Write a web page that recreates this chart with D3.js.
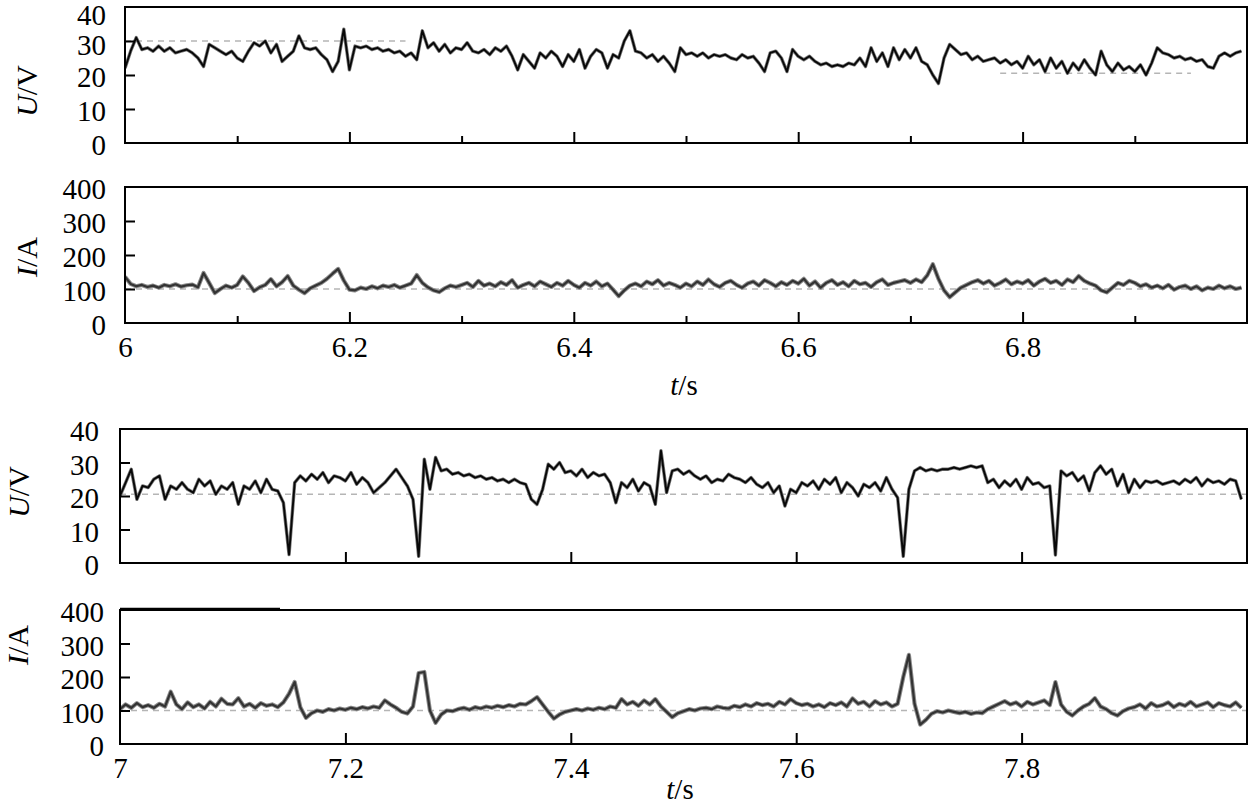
<!DOCTYPE html>
<html><head><meta charset="utf-8">
<script src="https://cdn.jsdelivr.net/npm/d3@7"></script>
<style>
html,body{margin:0;padding:0;background:#fff;}
svg{display:block;}
text{font-family:"Liberation Serif","Times New Roman",serif;fill:#000;}
</style></head>
<body>
<svg id="chart" width="1248" height="807"></svg>
<script>
// ---------- data (sampled every 0.005 s) ----------
const dt = 0.005;
const tStartTop = 6.0;
const tStartBot = 7.0;

// Voltage U (V), 6.000 s ... 6.995 s
const uTop = [
 22,27,31,27.5,28,27,28.5,27,28,26.5,27,27.5,26.5,25,22.5,29,28,27,26,27,
 25,24,27,29.5,28.5,30,26.5,29,24,25.5,27,31.5,28,27.5,28,26,24.5,21,24,33.5,
 21.5,28.5,28,28.5,27.5,28,27,27.5,26.5,27,25.5,26.5,24.5,33,28,29.5,27,29,26.5,28,
 27.5,29.5,27,26.5,27.5,26,28,27,28.5,25.5,21.5,26,24,22,26.5,25,27,25.5,22.5,26,
 24,27.5,22,25.5,27.5,26.5,22,26,25,30,33,27,26.5,25,26,24,25.5,23.5,21,28,
 26,26.5,25.5,26.5,25,26,25.5,26,25,24.5,26,25,25.5,23.5,21,26.5,27,25,21,27.5,
 25.5,24.5,25.5,24,23,23.5,22.5,23,22.5,23.5,23,25,22.5,28,24,26.5,22.5,28,24.5,27.5,
 25,28,24,23,20,17.5,25,29,27.5,26,26.5,24.5,25.5,24,24.5,25,23.5,24.5,23,24,
 22,25.5,23,24.5,21,25,22,24,20.5,23.5,21.5,24.5,22,20,27,23,21,23.5,21.5,22.5,
 21,23,20,23.5,28,26.5,26,25,25.5,24.5,25,24,24.5,22.5,22,25.5,26.5,25.5,26.5,27
];
// Current I (A), 6.000 s ... 6.995 s
const iTop = [
 136,115,108,112,106,110,104,112,108,114,107,111,113,105,147,118,88,100,110,104,
 112,137,118,94,105,112,129,108,120,138,110,98,88,102,110,118,130,145,159,125,
 98,96,104,100,108,102,110,106,112,104,110,116,141,118,105,96,91,102,110,106,
 112,118,106,124,110,116,108,120,112,126,104,112,118,108,122,114,106,118,110,124,
 112,104,118,110,122,108,116,98,79,96,110,116,108,122,114,126,110,118,112,104,
 116,108,122,112,128,114,106,118,124,112,104,116,122,110,126,118,108,120,112,124,
 116,130,110,122,104,118,126,112,120,108,124,114,118,106,120,128,112,118,122,126,
 118,128,120,140,173,130,96,76,90,104,112,120,126,116,124,110,118,128,114,122,
 116,126,110,122,130,118,124,112,128,120,138,124,116,110,96,90,104,118,112,124,
 118,108,114,104,110,102,112,98,106,110,100,108,96,104,100,110,102,108,100,104
];
// Voltage U (V), 7.000 s ... 7.995 s
const uBot = [
 20,24,28,19,23,22.5,25,26,19,23,22,24,22,21,25,23,24.5,20.5,23,22,
 24,17.5,23,22,24.5,21,25,22,21.5,18,2.5,24,26,24.5,26.5,25,27,24,26,25.5,
 24.5,27,23.5,25.5,24,21,22.5,24,26,28,25.5,23,19,2,31,22,31.5,27.5,28,26.5,
 27,26,26.5,25.5,26,25,25.5,24.5,25,24,25,24,23.5,19,17.5,22,29.5,28,30,27,
 27.5,26,28,25.5,27,26,26.5,24,18,24,22.5,25,21.5,24,23,17.5,33.5,21,27.5,28,
 26.5,27.5,26,25,26,24,25,24.5,26.5,25.5,25,24,25.5,23.5,22.5,24,21,23,17,22,
 21,24,23,24.5,22,25,23.5,25.5,21,24,22.5,20,23.5,22.5,24,21.5,25.5,22,19.5,2,
 22,27.5,28.5,27.5,28,27.5,28,28,28.5,28,28.5,29,28.5,29,24,25,22.5,24.5,23,25,
 22,25.5,23.5,24,22.5,23,2.4,27.5,26,27,24.5,26,21.5,27,29,26.5,28,23,26.5,21,
 25,22.5,24.5,24,24.5,23.5,24,24.5,23.5,25,24,25.5,23,25,24,24.5,23.5,25,24.5,19
];
// Current I (A), 7.000 s ... 7.995 s
const iBot = [
 104,118,108,122,110,116,108,120,112,156,118,104,124,110,118,106,126,112,135,120,
 118,137,112,120,108,122,114,118,110,124,150,185,110,78,92,100,96,104,100,106,
 102,108,104,110,106,112,108,130,118,108,96,91,112,212,215,100,63,88,100,98,
 104,108,102,110,106,112,108,114,110,116,112,120,118,128,140,118,96,76,88,96,
 100,104,100,106,102,108,104,112,108,134,118,126,114,130,118,134,112,96,80,92,
 98,104,100,106,108,104,112,108,106,114,110,118,112,122,116,120,112,126,118,134,
 122,116,120,112,118,110,122,116,124,112,136,120,126,112,128,118,124,112,120,200,
 266,120,58,72,90,98,94,100,96,92,96,90,94,92,104,112,120,128,118,124,
 112,126,118,124,130,116,185,118,96,85,100,112,120,137,112,104,92,85,98,106,
 110,118,106,122,112,116,124,110,120,114,126,112,118,124,110,122,116,112,124,108
];

// tick labels
const xTicksTop = [6, 6.2, 6.4, 6.6, 6.8];
const xMinorTop = [6.1, 6.3, 6.5, 6.7, 6.9];
const xTicksBot = [7, 7.2, 7.4, 7.6, 7.8];
const uTickLabels = [0, 10, 20, 30, 40];
const iTickLabels = [0, 100, 200, 300, 400];
// dashed reference levels
const uRefTop = [{t0: 6.0, t1: 6.25, v: 30}, {t0: 6.78, t1: 6.95, v: 20.5}];
const uRefBot = [{t0: 7.0, t1: 8.0, v: 20.5}];
const iRef = 100;

// ---------- drawing ----------
const svg = d3.select("#chart");
const FS = 29;

const panels = [
  {data: uTop, t0: tStartTop, x0: 125, x1: 1247, y0: 7,   y1: 143, vmax: 40,  yl: uTickLabels, lab: "U", unit: "/V", labX: 37, labY: 91, tickRight: 106, kind: "U", refs: uRefTop, minor: true},
  {data: iTop, t0: tStartTop, x0: 125, x1: 1247, y0: 187, y1: 323, vmax: 400, yl: iTickLabels, lab: "I", unit: "/A", labX: 37, labY: 257, tickRight: 106, kind: "I", minor: true, xlab: xTicksTop, tLabY: 395},
  {data: uBot, t0: tStartBot, x0: 120, x1: 1247, y0: 429, y1: 563, vmax: 40,  yl: uTickLabels, lab: "U", unit: "/V", labX: 29, labY: 492, tickRight: 99, kind: "U", refs: uRefBot, minor: false},
  {data: iBot, t0: tStartBot, x0: 120, x1: 1247, y0: 610, y1: 744, vmax: 400, yl: iTickLabels, lab: "I", unit: "/A", labX: 28, labY: 645, tickRight: 104, kind: "I", minor: false, xlab: xTicksBot, tLabY: 799}
];

panels.forEach((p, k) => {
  const x = d3.scaleLinear().domain([p.t0, p.t0 + 1]).range([p.x0, p.x1]);
  const y = d3.scaleLinear().domain([0, p.vmax]).range([p.y1, p.y0]);
  const g = svg.append("g");
  const clipId = "clip" + k;
  svg.append("clipPath").attr("id", clipId).append("rect")
    .attr("x", p.x0).attr("y", p.y0).attr("width", p.x1 - p.x0).attr("height", p.y1 - p.y0);

  // reference dashed lines
  const refs = p.kind === "I" ? [{t0: p.t0, t1: p.t0 + 1, v: iRef}] : p.refs;
  refs.forEach(r => {
    g.append("line").attr("x1", x(r.t0)).attr("x2", x(r.t1)).attr("y1", y(r.v)).attr("y2", y(r.v))
      .attr("stroke", "#b5b5b5").attr("stroke-width", 1.5).attr("stroke-dasharray", "6,5");
  });

  const line = d3.line().x((d, i) => x(p.t0 + i * dt)).y(d => y(d));
  const dg = g.append("g").attr("clip-path", `url(#${clipId})`);
  dg.append("path").attr("d", line(p.data)).attr("fill", "none")
    .attr("stroke", p.kind === "U" ? "#7a7a7a" : "#8c8c8c").attr("stroke-width", p.kind === "U" ? 3.4 : 4.2).attr("stroke-linejoin", "round");
  dg.append("path").attr("d", line(p.data)).attr("fill", "none")
    .attr("stroke", p.kind === "U" ? "#080808" : "#333").attr("stroke-width", p.kind === "U" ? 1.9 : 2.2).attr("stroke-linejoin", "round");

  // box
  g.append("rect").attr("x", p.x0).attr("y", p.y0).attr("width", p.x1 - p.x0).attr("height", p.y1 - p.y0)
    .attr("fill", "none").attr("stroke", "#000").attr("stroke-width", 2);

  // y inner ticks
  const yInner = p.yl.slice(1, -1);
  const yt = g.append("g").attr("transform", `translate(${p.x0},0)`)
    .call(d3.axisLeft(y).tickValues(yInner).tickSize(-10).tickFormat(""));
  yt.select(".domain").remove();
  yt.selectAll("line").attr("stroke", "#000").attr("stroke-width", 2);

  // y labels
  const topPanel = p.y0 < 20;
  const ylab = g.append("g").attr("transform", `translate(${p.x0},0)`)
    .call(d3.axisLeft(y).tickValues(p.yl).tickSize(0).tickPadding(p.x0 - p.tickRight).tickFormat(d3.format("d")));
  ylab.select(".domain").remove();
  ylab.selectAll("text").attr("font-size", FS).attr("font-family", null)
    .attr("dy", d => topPanel ? (d === 40 ? "0.59em" : d === 30 ? "0.48em" : "0.4em") : "0.4em")
    .attr("fill", "#000");

  // x ticks
  const majors = p.t0 === 6 ? xTicksTop : xTicksBot;
  const xt = g.append("g").attr("transform", `translate(0,${p.y1})`)
    .call(d3.axisBottom(x).tickValues(majors.filter(v => v > p.t0 && v < p.t0 + 1)).tickSize(-11).tickFormat(""));
  xt.select(".domain").remove();
  xt.selectAll("line").attr("stroke", "#000").attr("stroke-width", 2);
  if (p.minor) {
    const xm = g.append("g").attr("transform", `translate(0,${p.y1})`)
      .call(d3.axisBottom(x).tickValues(xMinorTop).tickSize(-7).tickFormat(""));
    xm.select(".domain").remove();
    xm.selectAll("line").attr("stroke", "#000").attr("stroke-width", 2);
  }
  if (p.xlab) {
    const xl = g.append("g").attr("transform", `translate(0,${p.y1})`)
      .call(d3.axisBottom(x).tickValues(p.xlab).tickSize(0).tickPadding(13).tickFormat(d3.format("")));
    xl.select(".domain").remove();
    xl.selectAll("text").attr("font-size", FS).attr("font-family", null).attr("fill", "#000");
    const tl = g.append("text").attr("x", p.t0 === 6 ? 684 : 680).attr("y", p.tLabY)
      .attr("text-anchor", "middle").attr("font-size", FS);
    tl.append("tspan").attr("font-style", "italic").text("t");
    tl.append("tspan").text("/s");
  }

  // y axis title
  const yl = g.append("text").attr("transform", `translate(${p.labX},${p.labY}) rotate(-90)`)
    .attr("text-anchor", "middle").attr("font-size", 30);
  yl.append("tspan").attr("font-style", "italic").text(p.lab);
  yl.append("tspan").text(p.unit);
});

// short heavier segment on top border of last panel (as in the source)
svg.append("line").attr("x1", 120).attr("x2", 280).attr("y1", 609).attr("y2", 609)
  .attr("stroke", "#000").attr("stroke-width", 2.5);
</script>
</body></html>
